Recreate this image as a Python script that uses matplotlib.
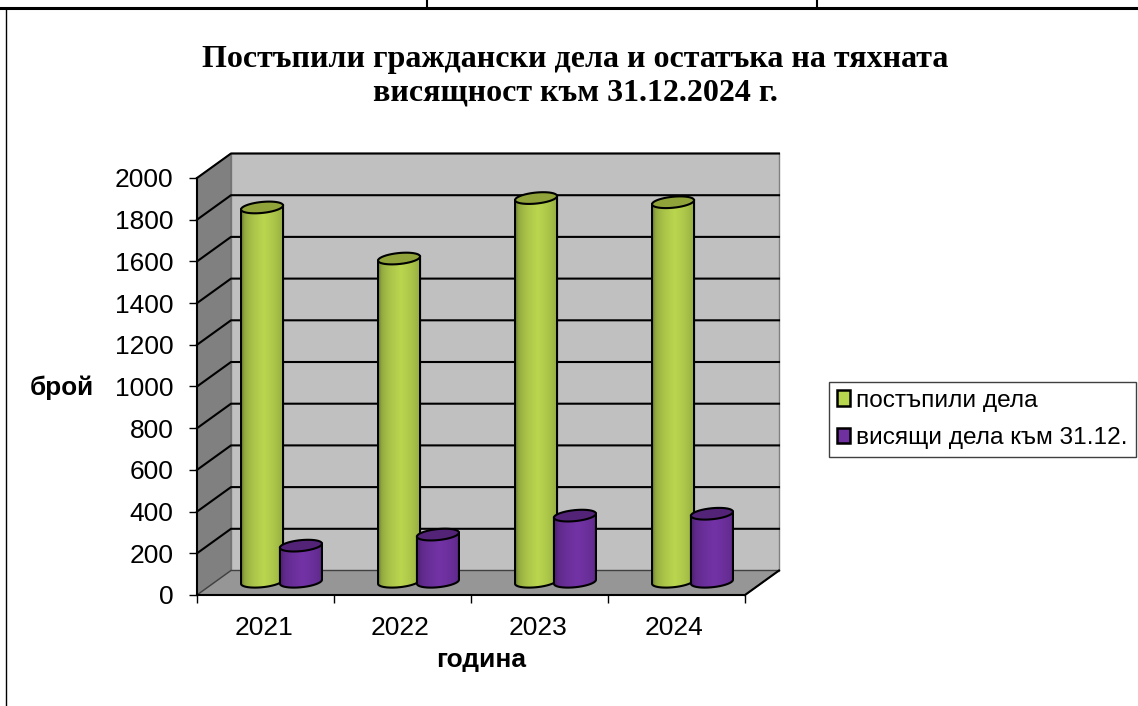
import numpy as np
import matplotlib
matplotlib.use('Agg')
import matplotlib.pyplot as plt
from matplotlib.patches import Polygon, Patch
from matplotlib.lines import Line2D

years = ['2021', '2022', '2023', '2024']
received = [1800, 1555, 1845, 1825]
pending = [178, 231, 322, 331]
series_names = ['постъпили дела', 'висящи дела към 31.12.']
y_ticks = list(range(0, 2001, 200))
title = 'Постъпили граждански дела и остатъка на тяхната\nвисящност към 31.12.2024 г.'

W, H = 1138, 706
fig = plt.figure(figsize=(W / 100, H / 100), dpi=100)
# front plane of the fake 3d box, in pixels
left, right, bottom, top = 197, 745, 595, 178
ax = fig.add_axes([left / W, 1 - bottom / H, (right - left) / W, (bottom - top) / H])
ax.set_xlim(0, 4)
ax.set_ylim(0, 2000)
ax.patch.set_visible(False)

px_x = 4 / (right - left)
px_y = 2000 / (bottom - top)
dx = 34 * px_x
dy = 24.5 * px_y

# walls and floor
ax.add_patch(Polygon([(dx, dy), (4 + dx, dy), (4 + dx, 2000 + dy), (dx, 2000 + dy)], fc='#c0c0c0', ec='#808080', lw=1, clip_on=False, zorder=1))
ax.add_patch(Polygon([(0, 0), (dx, dy), (dx, 2000 + dy), (0, 2000)], fc='#808080', ec='#707070', lw=1, clip_on=False, zorder=1))
ax.add_patch(Polygon([(0, 0), (4, 0), (4 + dx, dy), (dx, dy)], fc='#969696', ec='#404040', lw=1, clip_on=False, zorder=1))
ax.add_line(Line2D([4, 4 + dx], [0, dy], color='black', lw=1.5, clip_on=False, zorder=2))
for v in y_ticks[1:]:
    ax.add_line(Line2D([0, dx, 4 + dx], [v, v + dy, v + dy], color='black', lw=1.5, clip_on=False, zorder=2))


def shade(rgb_edge, rgb_mid, n=64):
    t = np.linspace(0, 1, n)
    k = np.clip(1 - np.abs(t - 0.55) / 0.5, 0, 1) ** 0.45
    e, m = np.array(rgb_edge), np.array(rgb_mid)
    return (e + (m - e) * k[:, None])[None, :, :]


def cylinder(xc, value, edge, mid, cap, z):
    # bars sit half way into the box
    xc = xc + dx / 2 - px_x
    y0 = dy / 2 + 1 * px_y
    y1 = value + dy / 2
    hw = 21 * px_x
    hh = 5.5 * px_y
    tilt = 2.0 * px_y
    t = np.linspace(0, 2 * np.pi, 80)
    ex = xc + hw * np.cos(t)
    ey = hh * np.sin(t) + tilt * np.cos(t)
    low = t[(t >= np.pi)]
    ax_low = xc + hw * np.cos(low)
    ay_low = y0 + hh * np.sin(low) + tilt * np.cos(low)
    body_x = np.r_[ax_low, xc + hw, xc - hw]
    body_y = np.r_[ay_low, y1 + tilt, y1 - tilt]
    ax.add_patch(Polygon(np.c_[body_x, body_y], closed=True, fc='none', ec='black', lw=1.5, clip_on=False, zorder=z + 0.2))
    im = ax.imshow(shade(edge, mid), extent=[xc - hw, xc + hw, y0 - 2 * hh, y1 + 2 * hh], aspect='auto', zorder=z, interpolation='bilinear')
    im.set_clip_path(Polygon(np.c_[body_x, body_y], closed=True, transform=ax.transData))
    ax.add_patch(Polygon(np.c_[ex, y1 + ey], closed=True, fc=cap, ec='black', lw=1.5, clip_on=False, zorder=z + 0.3))


x = np.arange(len(years)) + 0.5
offset = 0.142
for i in range(len(years)):
    cylinder(x[i] - offset, received[i], (0.50, 0.58, 0.22), (0.73, 0.84, 0.31), '#8fa33a', 3 + i)
    cylinder(x[i] + offset, pending[i], (0.32, 0.14, 0.47), (0.45, 0.2, 0.65), '#532378', 3.5 + i)
ax.set_xlim(0, 4)
ax.set_ylim(0, 2000)

# axes
for s in ['top', 'right']:
    ax.spines[s].set_visible(False)
for s in ['left', 'bottom']:
    ax.spines[s].set_linewidth(1.5)
    ax.spines[s].set_zorder(20)
ax.set_xticks(range(5))
ax.set_xticklabels([])
ax.set_xticks(x - 2 * px_x, years, minor=True)
ax.set_yticks(y_ticks)
ax.tick_params(axis='x', which='major', length=6, width=1)
ax.tick_params(axis='x', which='minor', length=0, pad=15, labelsize=19)
ax.tick_params(axis='y', length=6, width=1, pad=11, labelsize=19)
for lab in ax.get_xticklabels(minor=True) + ax.get_yticklabels():
    lab.set_fontfamily('Liberation Sans')

sans = 'Liberation Sans'
fig.text(575 / W, 1 - 76.5 / H, title, ha='center', va='center', family='Liberation Serif', weight='bold', fontsize=23, linespacing=1.22)
fig.text(62 / W, 1 - 388 / H, 'брой', ha='center', va='center', family=sans, weight='bold', fontsize=18.8)
fig.text(481 / W, 1 - 660 / H, 'година', ha='center', va='center', family=sans, weight='bold', fontsize=19)

handles = [Patch(fc='#b9d64f', ec='black', lw=1.8), Patch(fc='#7030a0', ec='black', lw=1.8)]
leg = fig.legend(handles, series_names, loc='upper left', bbox_to_anchor=(829 / W, 1 - 382 / H), borderaxespad=0,
                 prop={'family': sans, 'size': 17.6}, fancybox=False, framealpha=1, edgecolor='#404040',
                 handlelength=0.55, handleheight=0.6, handletextpad=0.25, labelspacing=0.62, borderpad=0.32)
leg.get_frame().set_linewidth(1)

# table rules of the scanned page
for xs, ys, lw in [([0, W], [8, 8], 2.2), ([6, 6], [8, H], 1), ([427, 427], [0, 8], 1.5), ([817, 817], [0, 8], 1.5)]:
    fig.add_artist(Line2D(np.array(xs) / W, 1 - np.array(ys) / H, color='black', lw=lw))

fig.savefig('out.png', dpi=100)
